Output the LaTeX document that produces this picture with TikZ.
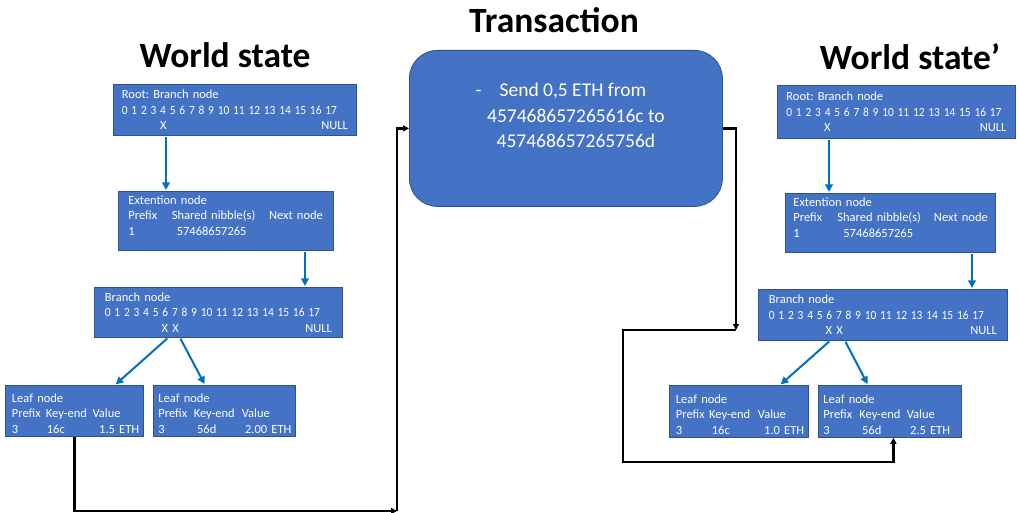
\documentclass[tikz,border=0pt]{standalone}
\usepackage{fontspec}
\usepackage{graphicx}
\setmainfont{Carlito}
\usetikzlibrary{arrows.meta}
\definecolor{boxfill}{HTML}{4472C4}
\definecolor{boxline}{HTML}{2F528F}
\definecolor{arrowblue}{HTML}{0070C0}
\newcommand{\cl}[2]{\makebox[#1pt][l]{#2}}
\newcommand{\digitrow}{\resizebox{215pt}{\height}{\mbox{0 1 2 3 4 5 6 7 8 9 10 11 12 13 14 15 16 17}}}
\newcommand{\boxfont}{\fontsize{12.5}{15.5}\selectfont\frenchspacing}
\newcommand{\up}[1]{\rule[-#1pt]{0pt}{0pt}}
\newcommand{\down}[1]{\rule{0pt}{#1pt}}
\tikzset{
  box/.style={draw=boxline, line width=0.8pt, fill=boxfill, text=white, anchor=north west,
    align=left, inner ysep=0pt, font=\boxfont},
  txbox/.style={draw=boxline, line width=0.8pt, fill=boxfill, text=white, anchor=north west,
    rounded corners=28pt, align=center, font=\fontsize{19.5}{25.5}\selectfont,
    minimum width=313pt, minimum height=156pt, inner sep=0pt},
  title/.style={font=\bfseries\fontsize{35.5}{40}\selectfont, anchor=base},
  barrow/.style={draw=arrowblue, line width=2pt, -{Triangle[length=7.5pt,width=7.5pt]}, shorten <=1pt, shorten >=1pt},
  conn/.style={draw=black, line width=2.4pt, -{Triangle[length=6pt,width=6pt]}}
}
\begin{document}
\begin{tikzpicture}[x=1pt,y=-1pt]
\useasboundingbox (0,0) rectangle (1018,513);

% titles
\node[title] (t1) at (225,68) {World state};
\node[title] (t2) at (554,33) {Transaction};
\node[title] (t3) at (910,70) {World state’};

% left tree
\node[box, inner xsep=8.5pt, text width=226pt, minimum height=51pt] (root) at (113,84)
  {Root: Branch node\\\digitrow\\\hspace*{38.3pt}X\hfill NULL};
\node[box, inner xsep=10pt, text width=195pt, minimum height=59pt] (ext) at (118,191)
  {Extention node\\\cl{43.4}{Prefix}\cl{97.3}{Shared nibble(s)}\mbox{Next node}\\\cl{48.4}{1}57468657265\up{11}};
\node[box, inner xsep=10.5pt, text width=227pt, minimum height=50pt] (br) at (94,287)
  {Branch node\\\digitrow\\\hspace*{56.7pt}X X\hfill NULL};
\node[box, inner xsep=6.5pt, text width=125pt, minimum height=51pt] (lf1) at (5,385)
  {\down{13.5}Leaf node\\\cl{34}{Prefix}\cl{46.6}{Key-end}\mbox{Value}\\\cl{35}{3}\cl{52.3}{16c}\mbox{1.5 ETH}};
\node[box, inner xsep=5pt, text width=132pt, minimum height=51pt] (lf2) at (153,385)
  {\down{13.5}Leaf node\\\cl{35.4}{Prefix}\cl{48}{Key-end}\mbox{Value}\\\cl{38.7}{3}\cl{48}{56d}\mbox{2.00 ETH}};

% transaction
\node[txbox] (tx) at (409,50)
  {-\hspace{18pt}Send 0,5 ETH from\makebox[10pt]{}\\\hspace*{20pt}457468657265616c to\\\hspace*{20pt}457468657265756d\\\mbox{}};

% right tree
\node[box, inner xsep=9pt, text width=220pt, minimum height=53pt] (rootr) at (777,85)
  {Root: Branch node\\\digitrow\\\hspace*{37.7pt}X\hfill NULL};
\node[box, inner xsep=8pt, text width=194pt, minimum height=59pt] (extr) at (785,193)
  {Extention node\\\cl{44}{Prefix}\cl{96.6}{Shared nibble(s)}\mbox{Next node}\\\cl{50}{1}57468657265\up{11}};
\node[box, inner xsep=10.5pt, text width=228pt, minimum height=51pt] (brr) at (758,289)
  {Branch node\\\digitrow\\\hspace*{56.7pt}X X\hfill NULL};
\node[box, inner xsep=6.5pt, text width=126pt, minimum height=52pt] (lf1r) at (669,385)
  {\down{15}Leaf node\\\cl{33.3}{Prefix}\cl{48.7}{Key-end}\mbox{Value}\\\cl{36}{3}\cl{52.3}{16c}\mbox{1.0 ETH}};
\node[box, inner xsep=5pt, text width=133pt, minimum height=52pt] (lf2r) at (818,385)
  {\down{15}Leaf node\\\cl{36}{Prefix}\cl{47.4}{Key-end}\mbox{Value}\\\cl{38.7}{3}\cl{48}{56d}\mbox{2.5 ETH}};

% blue arrows left
\draw[barrow] ([xshift=53pt]root.south west) -- ([xshift=48pt]ext.north west);
\draw[barrow] ([xshift=187pt]ext.south west) -- ([xshift=211pt]br.north west);
\draw[barrow] ([xshift=74pt]br.south west) -- ([xshift=110pt]lf1.north west);
\draw[barrow] ([xshift=86pt]br.south west) -- ([xshift=52pt]lf2.north west);
% blue arrows right
\draw[barrow] ([xshift=52pt]rootr.south west) -- ([xshift=44pt]extr.north west);
\draw[barrow] ([xshift=187pt]extr.south west) -- ([xshift=214pt]brr.north west);
\draw[barrow] ([xshift=72pt]brr.south west) -- ([xshift=111pt]lf1r.north west);
\draw[barrow] ([xshift=87pt]brr.south west) -- ([xshift=50pt]lf2r.north west);

% black connectors
\coordinate (j1) at (397,511);
\draw[conn] (lf1.south) |- (j1);
\draw[conn] (j1) |- (tx.west);
\coordinate (j2) at (736,330);
\coordinate (b1) at (623,330);
\coordinate (b2) at (623,462);
\draw[conn] (tx.east) -| (j2);
\draw[conn] (j2) -- (b1) -- (b2) -| ([xshift=3.5pt]lf2r.south);
\end{tikzpicture}
\end{document}
